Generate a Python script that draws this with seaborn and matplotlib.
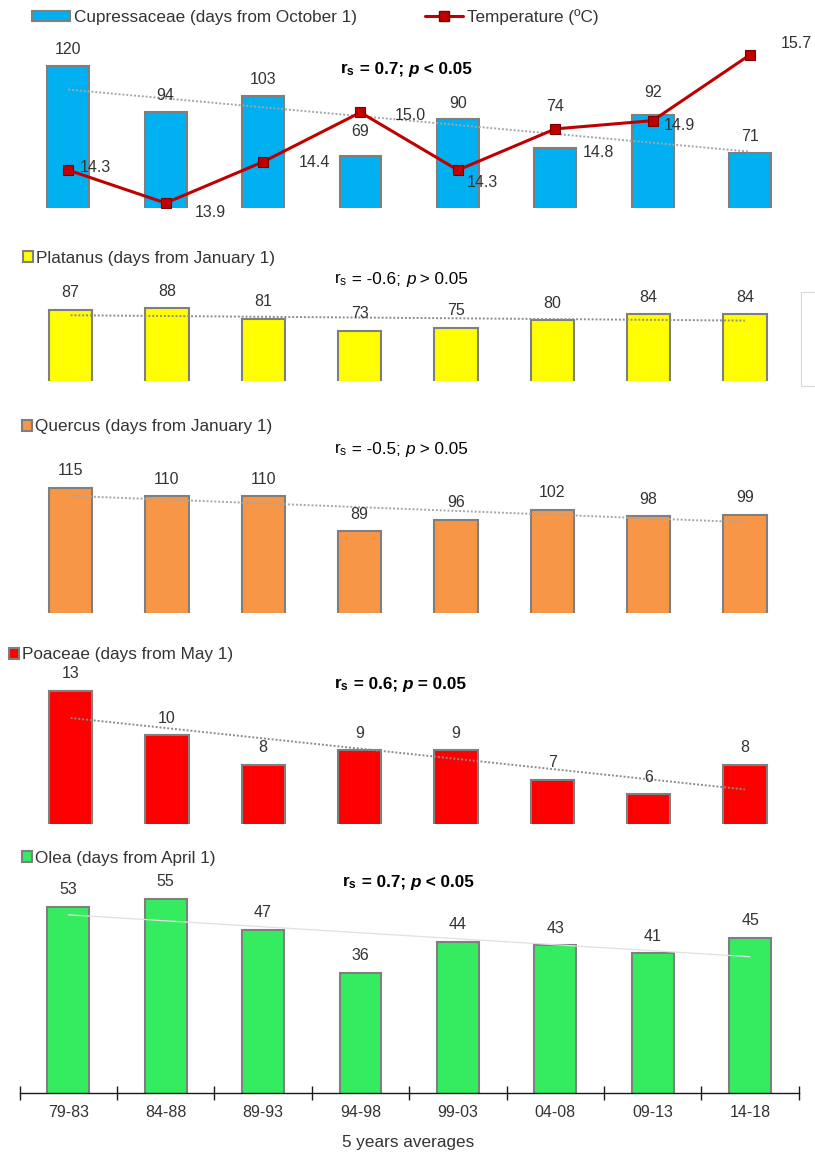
import numpy as np
import matplotlib
matplotlib.use("Agg")
import matplotlib.pyplot as plt
from matplotlib.patches import Rectangle
from matplotlib.lines import Line2D
from matplotlib.offsetbox import TextArea, HPacker, AnnotationBbox
import seaborn as sns

# ---- data -------------------------------------------------------------
periods = ["79-83", "84-88", "89-93", "94-98", "99-03", "04-08", "09-13", "14-18"]

cupressaceae = [120, 94, 103, 69, 90, 74, 92, 71]
temperature = [14.3, 13.9, 14.4, 15.0, 14.3, 14.8, 14.9, 15.7]
platanus = [87, 88, 81, 73, 75, 80, 84, 84]
quercus = [115, 110, 110, 89, 96, 102, 98, 99]
poaceae = [13, 10, 8, 9, 9, 7, 6, 8]
olea = [53, 55, 47, 36, 44, 43, 41, 45]

series_labels = [
    "Cupressaceae (days from October 1)",
    "Platanus (days from January 1)",
    "Quercus (days from January 1)",
    "Poaceae (days from May 1)",
    "Olea (days from April 1)",
]
temp_label = "Temperature (ºC)"

stats_rs = ["0.7", "-0.6", "-0.5", "0.6", "0.7"]
stats_p = ["< 0.05", "> 0.05", "> 0.05", "= 0.05", "< 0.05"]
stats_bold = [True, False, False, True, True]
xlabel = "5 years averages"

# ---- styling ----------------------------------------------------------
sns.set_style("white")
plt.rcParams["font.family"] = ["Liberation Sans", "DejaVu Sans"]
plt.rcParams["mathtext.fontset"] = "custom"
plt.rcParams["mathtext.rm"] = "Liberation Sans"
plt.rcParams["mathtext.it"] = "Liberation Sans:italic"
plt.rcParams["mathtext.bf"] = "Liberation Sans:bold"

W, H = 815, 1155
TXT = "#333333"
EDGE = "#7f7f7f"
LBL_FS = 11.5
LEG_FS = 12.3


def fx(x):
    return x / W


def fy(y):
    return 1 - y / H


fig = plt.figure(figsize=(W / 100, H / 100), dpi=100)

# panel layout: left px, right px, top px, bottom px, y-min, px per unit, bar width
layout = [
    (19.5, 798.8, 30, 208, 40, 1.779, 0.43),
    (22.4, 793.0, 265, 381, 40, 1.52, 0.45),
    (22.4, 793.0, 440, 613, 40, 1.667, 0.45),
    (22.4, 793.0, 665, 824, 4, 14.8, 0.45),
    (19.5, 798.8, 870, 1092.5, 5, 3.87, 0.43),
]
colors = ["#00b0f0", "#ffff00", "#f79646", "#ff0000", "#35eb60"]
values = [cupressaceae, platanus, quercus, poaceae, olea]
trend_styles = [
    dict(color="#a6a6a6", ls=(0, (1, 1)), lw=1.4),
    dict(color="#8c8c8c", ls=(0, (1, 1)), lw=1.4),
    dict(color="#a6a6a6", ls=(0, (1, 1)), lw=1.4),
    dict(color="#8c8c8c", ls=(0, (1, 1)), lw=1.4),
    dict(color="#e0e0e0", ls="-", lw=0.9),
]
# label offsets above the bar tops (px) for the first panel
cup_label_gap = [16.4, 16.3, 16.7, 24.6, 15.6, 40.7, 23.3, 16.3]
# temperature label offsets from markers (px right, px down)
temp_label_off = [(27, -3), (45, 9), (51, 1), (50, 3), (25, 12), (43, 24), (27, 5), (46, -11)]

legend_y = [17, 258, 427, 655, 858]
legend_x = [32, 23, 22, 9, 22]
stats_xy = [(406, 70), (401, 280), (401, 450), (400, 685), (408, 883)]

xpos = np.arange(len(periods))
axes = []
for i, (l, r, t, b, ymin, ppu, bw) in enumerate(layout):
    ax = fig.add_axes([fx(l), fy(b), (r - l) / W, (b - t) / H])
    axes.append(ax)
    sns.barplot(x=periods, y=values[i], order=periods, color=colors[i],
                saturation=1, width=bw, edgecolor=EDGE, linewidth=1.5, ax=ax)
    sns.regplot(x=xpos, y=np.array(values[i], dtype=float), scatter=False, ci=None,
                truncate=True, ax=ax, line_kws=trend_styles[i])
    ax.set_xlim(-0.5, len(periods) - 0.5)
    ax.set_ylim(ymin, ymin + (b - t) / ppu)
    ax.set_xlabel("")
    ax.set_ylabel("")
    ax.set_yticks([])
    for s in ax.spines.values():
        s.set_visible(False)
    ax.tick_params(axis="x", length=0)
    if i < 4:
        ax.set_xticks([])

    # value labels
    for k, v in enumerate(values[i]):
        gap = cup_label_gap[k] if i == 0 else 17
        ax.annotate(f"{v}", (xpos[k], v), xytext=(0, gap * 0.72), textcoords="offset points",
                    ha="center", va="center", fontsize=LBL_FS, color=TXT, zorder=5)

    # legend
    bars = ax.containers[0]
    if i == 0:
        handles = [bars, Line2D([], [], color="#c00000", lw=2.2, marker="s", ms=6.5,
                                mfc="#c00000", mec="#7a0000")]
        labels = [series_labels[0], temp_label]
        fig.legend(handles, labels, loc="center left",
                   bbox_to_anchor=(fx(legend_x[i]), fy(legend_y[i])),
                   ncol=2, frameon=False, borderpad=0, borderaxespad=0,
                   handlelength=2.22, handleheight=0.6, handletextpad=0.23,
                   columnspacing=4.0, fontsize=LEG_FS, labelcolor=TXT)
    else:
        fig.legend([bars], [series_labels[i]], loc="center left",
                   bbox_to_anchor=(fx(legend_x[i]), fy(legend_y[i])),
                   frameon=False, borderpad=0, borderaxespad=0,
                   handlelength=0.58, handleheight=0.58, handletextpad=0.2,
                   fontsize=LEG_FS, labelcolor=TXT)

    # Spearman statistics line
    weight = "bold" if stats_bold[i] else "normal"
    rs = r"$\mathbf{r_s}$" if stats_bold[i] else r"$\mathrm{r_s}$"
    parts = [
        TextArea(rs, textprops=dict(fontsize=12.3, color="black")),
        TextArea(f" = {stats_rs[i]}; ", textprops=dict(fontsize=12.3, color="black", weight=weight)),
        TextArea("p", textprops=dict(fontsize=12.3, color="black", weight=weight, style="italic")),
        TextArea(f" {stats_p[i]}", textprops=dict(fontsize=12.3, color="black", weight=weight)),
    ]
    box = HPacker(children=parts, align="baseline", pad=0, sep=0)
    ab = AnnotationBbox(box, (fx(stats_xy[i][0]), fy(stats_xy[i][1])), xycoords="figure fraction",
                        frameon=False, box_alignment=(0.5, 0.5), pad=0)
    fig.add_artist(ab)

# temperature line on a secondary axis
ax1 = axes[0]
ax2 = ax1.twinx()
sns.lineplot(x=xpos, y=temperature, ax=ax2, color="#c00000", lw=2.2, marker="s",
             markersize=6.5, markerfacecolor="#c00000", markeredgecolor="#7a0000",
             markeredgewidth=0.8)
ax2.set_ylim(13.84, 16.0)
ax2.set_yticks([])
ax2.set_ylabel("")
for s in ax2.spines.values():
    s.set_visible(False)
for k, tv in enumerate(temperature):
    dx, dy = temp_label_off[k]
    ax2.annotate(f"{tv:.1f}", (xpos[k], tv), xytext=(dx * 0.72, -dy * 0.72),
                 textcoords="offset points", ha="center", va="center",
                 fontsize=LBL_FS, color=TXT)

# bottom category axis
ax5 = axes[-1]
ax5.spines["bottom"].set_visible(True)
ax5.spines["bottom"].set_color("#1a1a1a")
ax5.spines["bottom"].set_linewidth(1.0)
ax5.set_xticks(xpos)
ax5.set_xticklabels(periods, fontsize=LBL_FS, color=TXT)
ax5.set_xticks(np.arange(len(periods) + 1) - 0.5, minor=True)
ax5.tick_params(axis="x", which="major", length=0, pad=9)
ax5.tick_params(axis="x", which="minor", length=9.4, width=1.0, direction="inout",
                color="#1a1a1a", bottom=True)
fig.text(fx(408), fy(1143), xlabel, ha="center", va="center", fontsize=12.3, color=TXT)

# light frame edge at the right of the second panel
fig.add_artist(Rectangle((fx(801), fy(386)), 40 / W, (386 - 292) / H,
                         transform=fig.transFigure, fill=False, edgecolor="#d9d9d9", lw=0.8))

fig.savefig("out.png", dpi=100)
